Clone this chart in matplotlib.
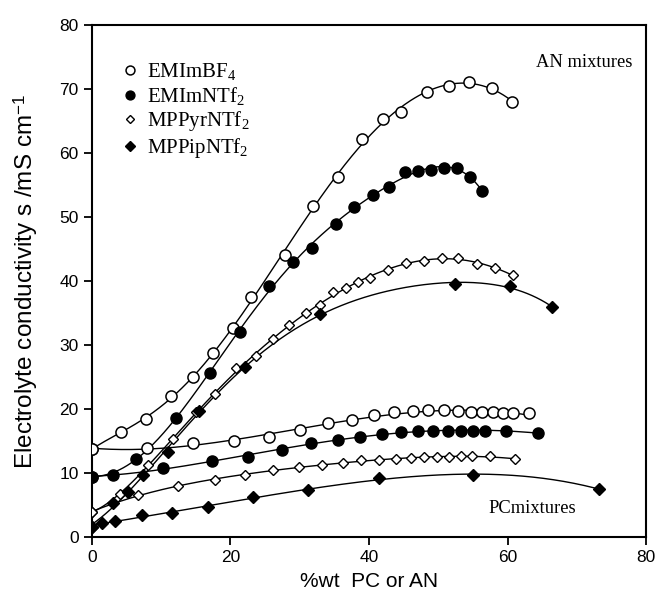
import numpy as np
import matplotlib.pyplot as plt
from matplotlib.lines import Line2D

plt.rcParams['font.family'] = 'Liberation Sans'
plt.rcParams['mathtext.fontset'] = 'custom'
plt.rcParams['mathtext.rm'] = 'Liberation Serif'
plt.rcParams['mathtext.it'] = 'Liberation Serif:italic'
plt.rcParams['mathtext.sf'] = 'Liberation Sans'

# ---------------- AN mixtures ----------------
an_bf4_x = [0, 4.2, 7.8, 11.4, 14.6, 17.5, 20.4, 23.0, 27.9, 31.9, 35.5, 39.0, 42.0, 44.6, 48.4, 51.6, 54.4, 57.8, 60.6]
an_bf4_y = [13.75, 16.4, 18.4, 22.0, 25.0, 28.75, 32.7, 37.5, 44.0, 51.7, 56.25, 62.2, 65.3, 66.4, 69.5, 70.5, 71.1, 70.2, 68.0]

an_ntf_x = [0, 6.4, 12.1, 17.0, 21.4, 25.5, 29.0, 31.7, 35.2, 37.8, 40.6, 42.9, 45.2, 47.1, 48.9, 50.8, 52.7, 54.6, 56.3]
an_ntf_y = [9.4, 12.2, 18.6, 25.6, 32.1, 39.2, 42.9, 45.2, 48.9, 51.5, 53.4, 54.7, 57.0, 57.2, 57.3, 57.6, 57.6, 56.3, 54.1]

an_pyr_x = [0, 4.0, 8.1, 11.7, 15.0, 17.8, 20.8, 23.7, 26.1, 28.5, 30.9, 32.9, 34.8, 36.7, 38.4, 40.1,
            42.7, 45.3, 47.9, 50.5, 52.9, 55.6, 58.2, 60.8]
an_pyr_y = [3.9, 6.7, 11.25, 15.3, 19.5, 22.3, 26.4, 28.3, 30.9, 33.1, 35.0, 36.25, 38.3, 38.9, 39.8, 40.5,
            41.7, 42.8, 43.1, 43.6, 43.6, 42.7, 42.0, 40.9]

an_pip_x = [0, 3.0, 5.2, 7.4, 11.0, 15.5, 22.1, 32.9, 52.4, 60.4, 66.4]
an_pip_y = [1.6, 5.3, 7.0, 9.7, 13.3, 19.7, 26.6, 34.8, 39.5, 39.2, 35.9]

# ---------------- PC mixtures ----------------
pc_bf4_x = [0, 7.9, 14.6, 20.5, 25.6, 30.0, 34.1, 37.5, 40.7, 43.6, 46.4, 48.5, 50.8, 52.9, 54.7, 56.3, 57.9, 59.4, 60.8, 63.1]
pc_bf4_y = [13.75, 13.9, 14.7, 15.0, 15.6, 16.7, 17.8, 18.3, 19.0, 19.5, 19.7, 19.8, 19.8, 19.7, 19.5, 19.5, 19.5, 19.4, 19.4, 19.4]

pc_ntf_x = [0, 3.0, 10.3, 17.3, 22.5, 27.4, 31.6, 35.5, 38.7, 41.9, 44.6, 47.1, 49.2, 51.4, 53.3, 55.0, 56.7, 59.8, 64.4]
pc_ntf_y = [9.4, 9.7, 10.8, 11.9, 12.5, 13.6, 14.7, 15.2, 15.6, 16.1, 16.4, 16.6, 16.6, 16.6, 16.6, 16.6, 16.6, 16.6, 16.3]

pc_pyr_x = [0, 6.6, 12.4, 17.8, 22.1, 26.2, 29.9, 33.2, 36.2, 38.9, 41.4, 43.9, 46.1, 47.9, 49.8, 51.6, 53.3, 54.9, 57.5, 61.1]
pc_pyr_y = [3.9, 6.6, 8.0, 8.9, 9.7, 10.4, 10.9, 11.3, 11.6, 12.0, 12.1, 12.2, 12.3, 12.5, 12.5, 12.5, 12.6, 12.6, 12.6, 12.2]

pc_pip_x = [0, 1.4, 3.3, 7.2, 11.6, 16.8, 23.3, 31.2, 41.4, 55.0, 73.2]
pc_pip_y = [1.6, 2.2, 2.5, 3.4, 3.8, 4.7, 6.2, 7.3, 9.2, 9.7, 7.5]

labels = ['EMImBF$_\\mathrm{4}$', 'EMImNTf$_\\mathrm{2}$', 'MPPyrNTf$_\\mathrm{2}$', 'MPPipNTf$_\\mathrm{2}$']

styles = [
    dict(marker='o', ms=8.0, mfc='white', mec='black', mew=1.1),
    dict(marker='o', ms=8.0, mfc='black', mec='black', mew=1.0),
    dict(marker='D', ms=4.8, mfc='white', mec='black', mew=1.0),
    dict(marker='D', ms=5.8, mfc='black', mec='black', mew=1.0),
]
fit_deg = {'an': [6, 6, 6, 5], 'pc': [4, 4, 4, 4]}

fig = plt.figure(figsize=(6.58, 6.02), dpi=100)
ax = fig.add_axes([0.1398, 0.108, 0.842, 0.8505])

an_sets = [(an_bf4_x, an_bf4_y), (an_ntf_x, an_ntf_y), (an_pyr_x, an_pyr_y), (an_pip_x, an_pip_y)]
pc_sets = [(pc_bf4_x, pc_bf4_y), (pc_ntf_x, pc_ntf_y), (pc_pyr_x, pc_pyr_y), (pc_pip_x, pc_pip_y)]

for key, sets in [('an', an_sets), ('pc', pc_sets)]:
    for i, (x, y) in enumerate(sets):
        x = np.array(x)
        y = np.array(y)
        # regression curve through the measured points
        p = np.polyfit(x, y, fit_deg[key][i])
        xf = np.linspace(x.min(), x.max(), 300)
        ax.plot(xf, np.polyval(p, xf), color='black', lw=1.0, zorder=2)
        ax.plot(x, y, ls='none', zorder=3, **styles[i])

handles = [Line2D([], [], ls='none', **dict(st, ms=st['ms'] * 0.8)) for st in styles]
ax.legend(handles, labels, loc='upper left', bbox_to_anchor=(0.043, 0.945), frameon=False,
          prop={'family': 'Liberation Serif', 'size': 15}, handlelength=0.6, handletextpad=0.5,
          labelspacing=0.12, borderaxespad=0)

ax.text(78.1, 74.1, 'AN mixtures', family='Liberation Serif', fontsize=13.3, ha='right', va='center')
ax.text(57.2, 4.5, 'PCmixtures', family='Liberation Serif', fontsize=13.3, ha='left', va='center')

ax.set_xlim(0, 80)
ax.set_ylim(0, 80)
ax.set_xticks([0, 20, 40, 60, 80])
ax.set_yticks(np.arange(0, 81, 10))
ax.tick_params(direction='out', length=6, width=1.3, labelsize=12.5, top=False, right=False)
for s in ax.spines.values():
    s.set_linewidth(1.5)

ax.set_xlabel('%wt  PC or AN', fontsize=15, labelpad=5)
ax.set_ylabel('Electrolyte conductivity s /mS cm$^{\\mathsf{-1}}$', fontsize=17.5, labelpad=14)

fig.savefig('out.png', dpi=100)
